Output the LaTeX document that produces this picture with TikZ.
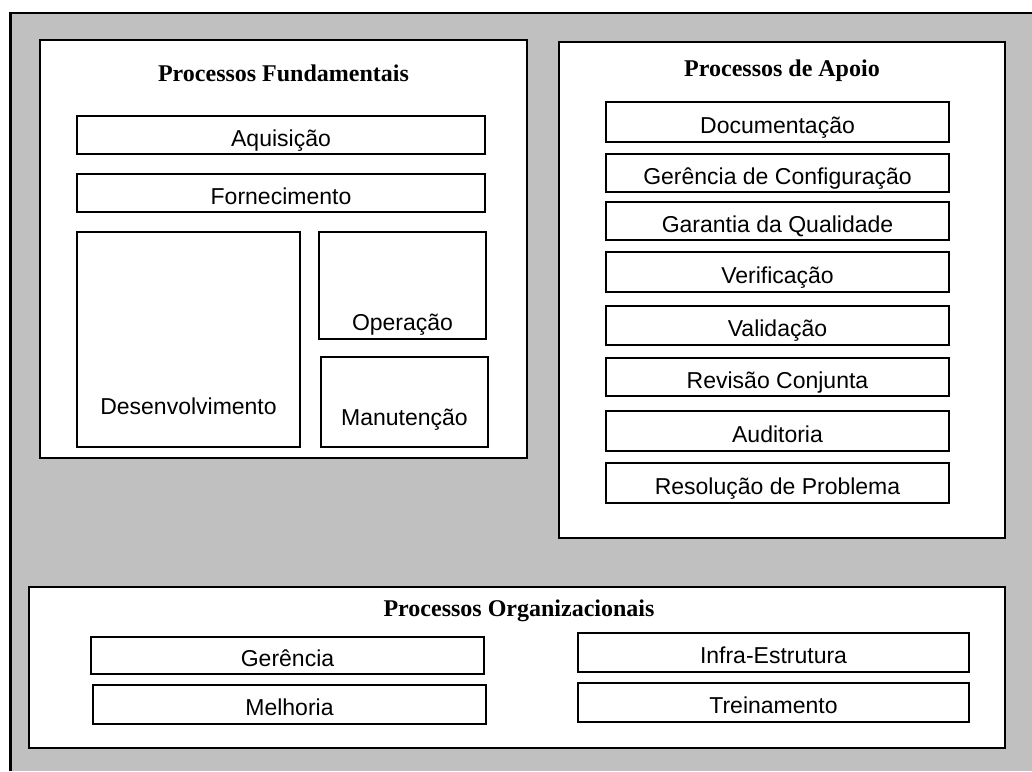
\documentclass[tikz,border=0pt]{standalone}
\usepackage{fontspec}
\setmainfont{Liberation Sans}
\newfontfamily\titlefont{Liberation Serif}
\usepackage{tikz}
\usetikzlibrary{positioning}
\definecolor{fundo}{RGB}{192,192,192}

\begin{document}
\begin{tikzpicture}[x=1pt,y=-1pt,
    grupo/.style={draw,fill=white,line width=1.4pt,inner sep=0pt},
    processo/.style={draw,fill=white,line width=1.4pt,inner sep=0pt,text height=22pt,text depth=0pt,font=\fontsize{23}{26}\selectfont},
    titulo/.style={font=\titlefont\bfseries\fontsize{24}{27}\selectfont},
    rotulo/.style={inner sep=0pt,text height=22pt,text depth=0pt,font=\fontsize{23}{26}\selectfont}]
  \useasboundingbox (0,0) rectangle (1032,771);
  % moldura cinza
  \fill[fundo] (10,13) rectangle (1032,771);
  \draw[line width=3pt] (10,771) -- (10,13);
  \draw[line width=2.2pt] (8.5,13) -- (1032,13);

  % processos fundamentais
  \node[grupo,minimum width=487pt,minimum height=418pt] (Fundamentais) at (283.5,249) {};
  \node[titulo]   (TitFund)  at (283.5,73)  {Processos Fundamentais};
  \node[processo,minimum width=408pt,minimum height=38pt] (Aquisicao)    at (281,135) {Aquisição};
  \node[processo,minimum width=408pt,minimum height=38pt] (Fornecimento) at (281,193) {Fornecimento};
  \node[grupo,minimum width=223pt,minimum height=215pt] (Desenv)     at (188.5,339.5) {};
  \node[grupo,minimum width=167pt,minimum height=107pt] (Operacao)   at (402.5,285.5) {};
  \node[grupo,minimum width=167pt,minimum height=90pt]  (Manutencao) at (404.5,402)   {};
  \node[rotulo] (TxtDesenv) at (188.5,403) {Desenvolvimento};
  \node[rotulo] (TxtOper)   at (402.5,319.5) {Operação};
  \node[rotulo] (TxtManut)  at (404.5,414) {Manutenção};

  % processos de apoio
  \node[grupo,minimum width=446pt,minimum height=496pt] (Apoio) at (782,290) {};
  \node[titulo] (TitApoio) at (782,71) {Processos de Apoio};
  \node[processo,minimum width=343pt,minimum height=40pt] (Documentacao) at (777.5,122) {Documentação};
  \node[processo,minimum width=343pt,minimum height=38pt] (Configuracao) at (777.5,173) {Gerência de Configuração};
  \node[processo,minimum width=343pt,minimum height=38pt] (Qualidade)    at (777.5,221) {Garantia da Qualidade};
  \node[processo,minimum width=343pt,minimum height=40pt] (Verificacao)  at (777.5,272) {Verificação};
  \node[processo,minimum width=343pt,minimum height=39pt] (Validacao)    at (777.5,325.5) {Validação};
  \node[processo,minimum width=343pt,minimum height=38pt] (Revisao)      at (777.5,377) {Revisão Conjunta};
  \node[processo,minimum width=343pt,minimum height=40pt] (Auditoria)    at (777.5,431) {Auditoria};
  \node[processo,minimum width=343pt,minimum height=40pt] (Resolucao)    at (777.5,483) {Resolução de Problema};

  % processos organizacionais
  \node[grupo,minimum width=976pt,minimum height=161pt] (Organizacionais) at (517,667.5) {};
  \node[titulo] (TitOrg) at (519,611) {Processos Organizacionais};
  \node[processo,minimum width=393pt,minimum height=37pt] (Gerencia)    at (287.5,655.5) {Gerência};
  \node[processo,minimum width=393pt,minimum height=39pt] (Melhoria)    at (289.5,704.5) {Melhoria};
  \node[processo,minimum width=391pt,minimum height=39pt] (Infra)       at (773.5,652.5) {Infra-Estrutura};
  \node[processo,minimum width=391pt,minimum height=39pt] (Treinamento) at (773.5,702.5) {Treinamento};
\end{tikzpicture}
\end{document}
